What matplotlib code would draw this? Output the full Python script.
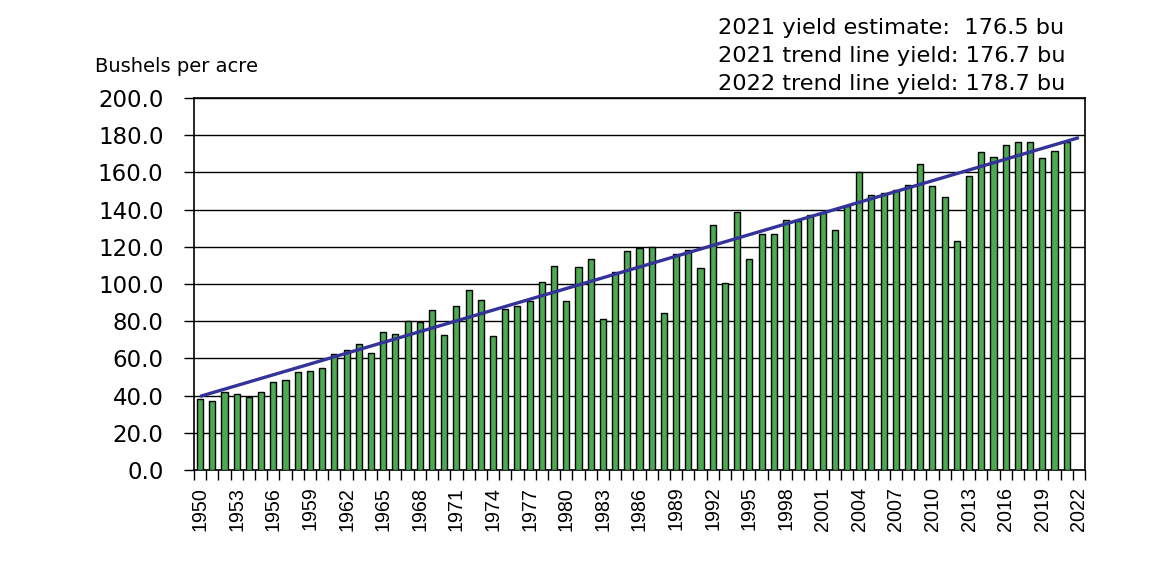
import matplotlib
matplotlib.use("Agg")
import matplotlib.pyplot as plt
import numpy as np

# US corn yield, bushels per acre (2021 = estimate)
years = list(range(1950, 2022))
yields = [
    38.2, 36.9, 41.8, 40.7, 39.4, 42.0, 47.4, 48.3, 52.8, 53.1,
    54.7, 62.4, 64.7, 67.9, 62.9, 74.1, 73.1, 80.1, 79.5, 85.9,
    72.4, 88.1, 97.0, 91.3, 71.9, 86.4, 88.0, 90.8, 101.0, 109.5,
    91.0, 108.9, 113.2, 81.1, 106.7, 118.0, 119.4, 119.8, 84.6, 116.3,
    118.5, 108.6, 131.5, 100.7, 138.6, 113.5, 127.1, 126.7, 134.4, 133.8,
    136.9, 138.2, 129.3, 142.2, 160.3, 147.9, 149.1, 150.7, 153.3, 164.4,
    152.6, 146.8, 123.1, 158.1, 171.0, 168.4, 174.6, 176.6, 176.4, 167.5,
    171.4, 176.5,
]
trend_years = [1950, 2022]
trend_vals = [39.6, 178.7]

label_years = list(range(1950, 2023, 3))
notes = [
    "2021 yield estimate:  176.5 bu",
    "2021 trend line yield: 176.7 bu",
    "2022 trend line yield: 178.7 bu",
]

BAR_COLOR = "#4caa50"
LINE_COLOR = "#333399"

plt.rcParams["font.family"] = "DejaVu Sans"

fig = plt.figure(figsize=(11.6, 5.62), dpi=100)
ax = fig.add_axes([194 / 1160, 1 - 470 / 562, (1085 - 194) / 1160, (470 - 98) / 562])

ax.bar(years, yields, width=0.5, color=BAR_COLOR, edgecolor="black",
       linewidth=1.0, zorder=3)
ax.plot(trend_years, trend_vals, color=LINE_COLOR, linewidth=2.4, zorder=4,
        solid_capstyle="butt")

ax.set_xlim(1949.5, 2022.5)
ax.set_ylim(0, 200)

ax.set_yticks(np.arange(0, 201, 20))
ax.set_yticklabels([f"{v:.1f}" for v in np.arange(0, 201, 20)])
ax.tick_params(axis="y", direction="out", length=7, width=1.0,
               labelsize=16.5, pad=15)
ax.yaxis.grid(True, color="black", linewidth=1.0, zorder=0)
ax.set_axisbelow(True)

ax.set_xticks(label_years)
ax.set_xticklabels([str(y) for y in label_years], rotation=90,
                   family="Liberation Sans")
ax.set_xticks(np.arange(1949.5, 2023.0, 1.0), minor=True)
ax.tick_params(axis="x", which="major", length=0, labelsize=14.2, pad=12)
ax.tick_params(axis="x", which="minor", direction="out", length=7, width=1.0)

for s in ax.spines.values():
    s.set_linewidth(1.2)
    s.set_color("black")

fig.text(95 / 1160, 1 - 66 / 562, "Bushels per acre", fontsize=14,
         va="center", ha="left")

for i, line in enumerate(notes):
    fig.text(718 / 1160, 1 - (28 + 28 * i) / 562, line, fontsize=16.2,
             va="center", ha="left")

fig.savefig("out.png", dpi=100)
